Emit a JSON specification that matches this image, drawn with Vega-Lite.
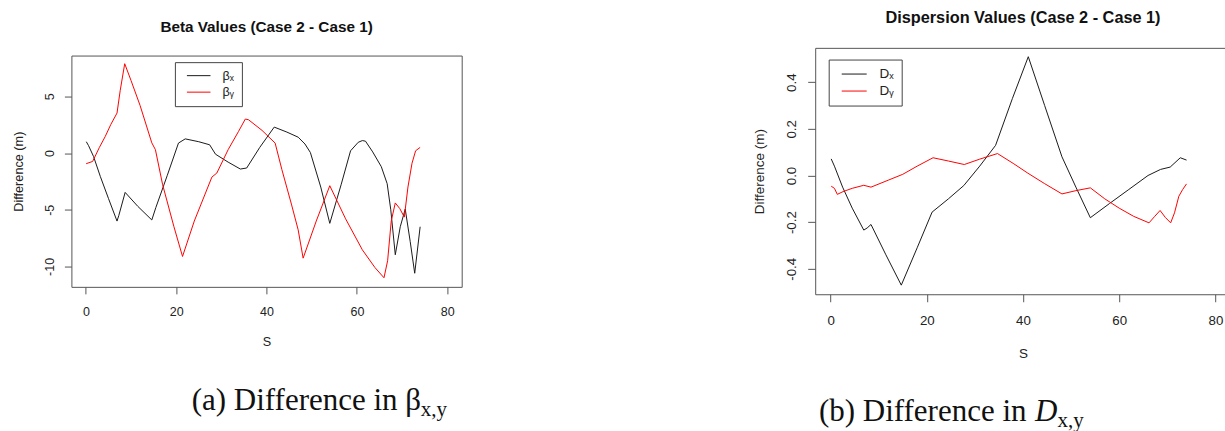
{
  "$schema": "https://vega.github.io/schema/vega-lite/v6.json",
  "background": "white",
  "padding": {"left": 11.4, "top": 9.5, "right": 0, "bottom": 0},
  "config": {
    "font": "Liberation Sans",
    "view": {"stroke": "#555", "strokeWidth": 1},
    "axis": {
      "grid": false, "domain": false, "tickColor": "#555", "tickWidth": 1,
      "labelColor": "#222", "titleColor": "#222", "titleFontWeight": "normal",
      "labelFont": "Liberation Sans", "titleFont": "Liberation Sans",
      "labelFlush": false, "labelOverlap": false
    }
  },
  "datasets": {
    "beta": [
      {"s": 0.1, "diff": 1.0, "series": "βₓ"}, {"s": 0.6, "diff": 0.65, "series": "βₓ"}, {"s": 1.7, "diff": -0.3, "series": "βₓ"},
      {"s": 3.2, "diff": -2.06, "series": "βₓ"}, {"s": 5.0, "diff": -4.0, "series": "βₓ"}, {"s": 6.9, "diff": -6.0, "series": "βₓ"},
      {"s": 7.3, "diff": -5.5, "series": "βₓ"}, {"s": 8.7, "diff": -3.47, "series": "βₓ"}, {"s": 11.5, "diff": -4.7, "series": "βₓ"},
      {"s": 14.6, "diff": -5.9, "series": "βₓ"}, {"s": 15.5, "diff": -4.8, "series": "βₓ"}, {"s": 18.0, "diff": -2.0, "series": "βₓ"},
      {"s": 20.5, "diff": 0.88, "series": "βₓ"}, {"s": 22.0, "diff": 1.25, "series": "βₓ"}, {"s": 25.0, "diff": 1.0, "series": "βₓ"},
      {"s": 27.4, "diff": 0.73, "series": "βₓ"}, {"s": 28.7, "diff": -0.1, "series": "βₓ"}, {"s": 31.5, "diff": -0.8, "series": "βₓ"},
      {"s": 34.2, "diff": -1.41, "series": "βₓ"}, {"s": 35.6, "diff": -1.32, "series": "βₓ"}, {"s": 38.5, "diff": 0.5, "series": "βₓ"},
      {"s": 41.7, "diff": 2.29, "series": "βₓ"}, {"s": 44.5, "diff": 1.85, "series": "βₓ"}, {"s": 47.0, "diff": 1.4, "series": "βₓ"},
      {"s": 48.5, "diff": 0.8, "series": "βₓ"}, {"s": 49.7, "diff": 0.05, "series": "βₓ"}, {"s": 52.0, "diff": -3.0, "series": "βₓ"},
      {"s": 54.0, "diff": -6.2, "series": "βₓ"}, {"s": 56.5, "diff": -2.8, "series": "βₓ"}, {"s": 58.6, "diff": 0.2, "series": "βₓ"},
      {"s": 60.3, "diff": 0.95, "series": "βₓ"}, {"s": 61.2, "diff": 1.1, "series": "βₓ"}, {"s": 61.9, "diff": 1.05, "series": "βₓ"},
      {"s": 63.5, "diff": 0.1, "series": "βₓ"}, {"s": 65.4, "diff": -1.2, "series": "βₓ"}, {"s": 66.7, "diff": -2.7, "series": "βₓ"},
      {"s": 67.5, "diff": -5.0, "series": "βₓ"}, {"s": 68.5, "diff": -8.97, "series": "βₓ"}, {"s": 69.6, "diff": -6.5, "series": "βₓ"},
      {"s": 70.7, "diff": -4.94, "series": "βₓ"}, {"s": 71.8, "diff": -7.8, "series": "βₓ"}, {"s": 72.8, "diff": -10.6, "series": "βₓ"},
      {"s": 74.0, "diff": -6.5, "series": "βₓ"},
      {"s": 0.07, "diff": -0.94, "series": "βᵧ"}, {"s": 1.5, "diff": -0.74, "series": "βᵧ"}, {"s": 3.0, "diff": 0.5, "series": "βᵧ"},
      {"s": 4.3, "diff": 1.47, "series": "βᵧ"}, {"s": 5.5, "diff": 2.5, "series": "βᵧ"}, {"s": 6.9, "diff": 3.53, "series": "βᵧ"},
      {"s": 7.6, "diff": 5.5, "series": "βᵧ"}, {"s": 8.6, "diff": 7.88, "series": "βᵧ"}, {"s": 10.0, "diff": 6.4, "series": "βᵧ"},
      {"s": 12.0, "diff": 4.2, "series": "βᵧ"}, {"s": 14.6, "diff": 0.9, "series": "βᵧ"}, {"s": 15.4, "diff": 0.3, "series": "βᵧ"},
      {"s": 17.0, "diff": -2.8, "series": "βᵧ"}, {"s": 19.5, "diff": -6.5, "series": "βᵧ"}, {"s": 21.4, "diff": -9.12, "series": "βᵧ"},
      {"s": 24.0, "diff": -6.0, "series": "βᵧ"}, {"s": 27.9, "diff": -2.12, "series": "βᵧ"}, {"s": 29.0, "diff": -1.76, "series": "βᵧ"},
      {"s": 31.5, "diff": 0.3, "series": "βᵧ"}, {"s": 33.8, "diff": 1.91, "series": "βᵧ"}, {"s": 35.3, "diff": 3.0, "series": "βᵧ"},
      {"s": 36.0, "diff": 2.94, "series": "βᵧ"}, {"s": 39.0, "diff": 2.0, "series": "βᵧ"}, {"s": 41.9, "diff": 0.88, "series": "βᵧ"},
      {"s": 43.4, "diff": -1.47, "series": "βᵧ"}, {"s": 45.5, "diff": -4.5, "series": "βᵧ"}, {"s": 47.0, "diff": -6.77, "series": "βᵧ"},
      {"s": 48.1, "diff": -9.27, "series": "βᵧ"}, {"s": 51.0, "diff": -6.0, "series": "βᵧ"}, {"s": 54.0, "diff": -2.88, "series": "βᵧ"},
      {"s": 57.5, "diff": -5.8, "series": "βᵧ"}, {"s": 61.2, "diff": -8.53, "series": "βᵧ"}, {"s": 64.0, "diff": -10.1, "series": "βᵧ"},
      {"s": 66.0, "diff": -11.0, "series": "βᵧ"}, {"s": 66.8, "diff": -9.5, "series": "βᵧ"}, {"s": 67.6, "diff": -6.0, "series": "βᵧ"},
      {"s": 68.5, "diff": -4.4, "series": "βᵧ"}, {"s": 69.5, "diff": -4.9, "series": "βᵧ"}, {"s": 70.5, "diff": -5.65, "series": "βᵧ"},
      {"s": 71.3, "diff": -3.0, "series": "βᵧ"}, {"s": 72.2, "diff": -0.9, "series": "βᵧ"}, {"s": 73.0, "diff": 0.2, "series": "βᵧ"},
      {"s": 74.0, "diff": 0.5, "series": "βᵧ"}
    ],
    "dispersion": [
      {"s": 0.13, "diff": 0.071, "series": "Dₓ"}, {"s": 0.8, "diff": 0.04, "series": "Dₓ"}, {"s": 2.5, "diff": -0.05, "series": "Dₓ"},
      {"s": 4.5, "diff": -0.14, "series": "Dₓ"}, {"s": 6.9, "diff": -0.234, "series": "Dₓ"}, {"s": 7.6, "diff": -0.225, "series": "Dₓ"},
      {"s": 8.4, "diff": -0.21, "series": "Dₓ"}, {"s": 11.5, "diff": -0.34, "series": "Dₓ"}, {"s": 14.7, "diff": -0.47, "series": "Dₓ"},
      {"s": 18.0, "diff": -0.31, "series": "Dₓ"}, {"s": 21.1, "diff": -0.157, "series": "Dₓ"}, {"s": 24.5, "diff": -0.1, "series": "Dₓ"},
      {"s": 27.7, "diff": -0.043, "series": "Dₓ"}, {"s": 31.0, "diff": 0.04, "series": "Dₓ"}, {"s": 34.3, "diff": 0.129, "series": "Dₓ"},
      {"s": 37.8, "diff": 0.33, "series": "Dₓ"}, {"s": 41.1, "diff": 0.509, "series": "Dₓ"}, {"s": 44.5, "diff": 0.3, "series": "Dₓ"},
      {"s": 48.1, "diff": 0.08, "series": "Dₓ"}, {"s": 51.0, "diff": -0.05, "series": "Dₓ"}, {"s": 54.0, "diff": -0.181, "series": "Dₓ"},
      {"s": 58.0, "diff": -0.12, "series": "Dₓ"}, {"s": 62.0, "diff": -0.06, "series": "Dₓ"}, {"s": 66.0, "diff": 0.0, "series": "Dₓ"},
      {"s": 68.6, "diff": 0.026, "series": "Dₓ"}, {"s": 70.6, "diff": 0.036, "series": "Dₓ"}, {"s": 72.7, "diff": 0.076, "series": "Dₓ"},
      {"s": 74.0, "diff": 0.066, "series": "Dₓ"},
      {"s": 0.13, "diff": -0.046, "series": "Dᵧ"}, {"s": 0.8, "diff": -0.055, "series": "Dᵧ"}, {"s": 1.4, "diff": -0.081, "series": "Dᵧ"},
      {"s": 2.6, "diff": -0.069, "series": "Dᵧ"}, {"s": 4.5, "diff": -0.055, "series": "Dᵧ"}, {"s": 6.9, "diff": -0.042, "series": "Dᵧ"},
      {"s": 8.4, "diff": -0.05, "series": "Dᵧ"}, {"s": 12.0, "diff": -0.02, "series": "Dᵧ"}, {"s": 15.0, "diff": 0.005, "series": "Dᵧ"},
      {"s": 18.0, "diff": 0.04, "series": "Dᵧ"}, {"s": 21.3, "diff": 0.076, "series": "Dᵧ"}, {"s": 24.5, "diff": 0.062, "series": "Dᵧ"},
      {"s": 27.8, "diff": 0.047, "series": "Dᵧ"}, {"s": 31.0, "diff": 0.07, "series": "Dᵧ"}, {"s": 34.7, "diff": 0.094, "series": "Dᵧ"},
      {"s": 38.1, "diff": 0.05, "series": "Dᵧ"}, {"s": 41.0, "diff": 0.01, "series": "Dᵧ"}, {"s": 44.5, "diff": -0.035, "series": "Dᵧ"},
      {"s": 48.1, "diff": -0.079, "series": "Dᵧ"}, {"s": 51.0, "diff": -0.065, "series": "Dᵧ"}, {"s": 54.0, "diff": -0.053, "series": "Dᵧ"},
      {"s": 57.0, "diff": -0.1, "series": "Dᵧ"}, {"s": 60.0, "diff": -0.14, "series": "Dᵧ"}, {"s": 63.0, "diff": -0.175, "series": "Dᵧ"},
      {"s": 66.2, "diff": -0.203, "series": "Dᵧ"}, {"s": 67.4, "diff": -0.175, "series": "Dᵧ"}, {"s": 68.5, "diff": -0.15, "series": "Dᵧ"},
      {"s": 69.6, "diff": -0.18, "series": "Dᵧ"}, {"s": 70.7, "diff": -0.203, "series": "Dᵧ"}, {"s": 71.5, "diff": -0.16, "series": "Dᵧ"},
      {"s": 72.4, "diff": -0.089, "series": "Dᵧ"}, {"s": 73.2, "diff": -0.06, "series": "Dᵧ"}, {"s": 74.0, "diff": -0.036, "series": "Dᵧ"}
    ]
  },
  "resolve": {
    "scale": {"x": "independent", "y": "independent", "color": "independent"},
    "legend": {"color": "independent"}
  },
  "center": true,
  "spacing": 288.8,
  "hconcat": [
    {
      "spacing": 35.5,
      "vconcat": [
        {
          "width": 390.3,
          "height": 231.3,
          "title": {"text": "Beta Values (Case 2 - Case 1)", "font": "Liberation Sans", "fontSize": 15.3, "fontWeight": "bold", "color": "#111", "frame": "group", "anchor": "middle", "baseline": "alphabetic", "offset": 7.9},
          "data": {"name": "beta"},
          "mark": {"type": "line", "strokeWidth": 1, "clip": true},
          "encoding": {
            "x": {"field": "s", "type": "quantitative", "scale": {"domain": [-3.2, 83.2], "nice": false, "zero": false},
                  "axis": {"values": [0, 20, 40, 60, 80], "title": "S", "tickSize": 7, "labelFontSize": 12.5, "titleFontSize": 12.7, "labelPadding": 11.6, "titlePadding": 17.7}},
            "y": {"field": "diff", "type": "quantitative", "scale": {"domain": [-11.8, 8.6], "nice": false, "zero": false},
                  "axis": {"values": [-10, -5, 0, 5], "title": "Difference (m)", "tickSize": 7, "labelFontSize": 12.5, "titleFontSize": 12.7,
                           "labelAngle": -90, "labelAlign": "center", "labelBaseline": "bottom", "labelPadding": 8, "titlePadding": 18,
                           "labelExpr": "replace(datum.label, '\u2212', '-')"}},
            "color": {"field": "series", "type": "nominal",
                      "scale": {"domain": ["βₓ", "βᵧ"], "range": ["#1a1a1a", "#ff0000"]},
                      "legend": {"orient": "none", "legendX": 103.5, "legendY": 6.6, "title": null,
                                 "strokeColor": "#444", "fillColor": "white", "padding": 7,
                                 "symbolType": "M-2,0H2", "symbolSize": 139, "symbolStrokeWidth": 1, "symbolOffset": 10.3,
                                 "labelOffset": 17.3, "labelFont": "Liberation Sans", "labelFontSize": 12.7, "labelColor": "#222", "rowPadding": 2.5}}
          }
        },
        {
          "width": 240.6,
          "height": 35.4,
          "view": {"stroke": null},
          "data": {"values": [{"main": "(a) Difference in β", "sub": "x,y"}]},
          "layer": [
            {"mark": {"type": "text", "align": "left", "baseline": "alphabetic", "font": "Liberation Serif", "fontSize": 31, "dy": 4.3, "color": "#111"},
             "encoding": {"text": {"field": "main"}}},
            {"mark": {"type": "text", "align": "left", "baseline": "alphabetic", "font": "Liberation Serif", "fontSize": 21, "dx": 229, "dy": 10.5, "color": "#111"},
             "encoding": {"text": {"field": "sub"}}}
          ]
        }
      ]
    },
    {
      "spacing": 34.8,
      "vconcat": [
        {
          "width": 415.6,
          "height": 246.4,
          "title": {"text": "Dispersion Values (Case 2 - Case 1)", "font": "Liberation Sans", "fontSize": 16.3, "fontWeight": "bold", "color": "#111", "frame": "group", "anchor": "middle", "baseline": "alphabetic", "offset": 8.3},
          "data": {"name": "dispersion"},
          "mark": {"type": "line", "strokeWidth": 1, "clip": true},
          "encoding": {
            "x": {"field": "s", "type": "quantitative", "scale": {"domain": [-3.2, 83.2], "nice": false, "zero": false},
                  "axis": {"values": [0, 20, 40, 60, 80], "title": "S", "tickSize": 7.5, "labelFontSize": 13.3, "titleFontSize": 13.5, "labelPadding": 12.1, "titlePadding": 19.1}},
            "y": {"field": "diff", "type": "quantitative", "scale": {"domain": [-0.509, 0.547], "nice": false, "zero": false},
                  "axis": {"values": [-0.4, -0.2, 0, 0.2, 0.4], "format": ".1f", "title": "Difference (m)", "tickSize": 7.5, "labelFontSize": 13.3, "titleFontSize": 13.5,
                           "labelAngle": -90, "labelAlign": "center", "labelBaseline": "bottom", "labelPadding": 9, "titlePadding": 18,
                           "labelExpr": "replace(datum.label, '\u2212', '-')"}},
            "color": {"field": "series", "type": "nominal",
                      "scale": {"domain": ["Dₓ", "Dᵧ"], "range": ["#1a1a1a", "#ff0000"]},
                      "legend": {"orient": "none", "legendX": 13.5, "legendY": 11.7, "title": null,
                                 "strokeColor": "#444", "fillColor": "white", "padding": 7.5,
                                 "symbolType": "M-2,0H2", "symbolSize": 156, "symbolStrokeWidth": 1, "symbolOffset": 11,
                                 "labelOffset": 18.3, "labelFont": "Liberation Sans", "labelFontSize": 13.5, "labelColor": "#222", "rowPadding": 3}}
          }
        },
        {
          "width": 7.4,
          "height": 30,
          "view": {"stroke": null},
          "data": {"values": [{"main": "(b) Difference in", "letter": "D", "sub": "x,y"}]},
          "layer": [
            {"mark": {"type": "text", "align": "left", "baseline": "alphabetic", "font": "Liberation Serif", "fontSize": 31, "dy": 7, "color": "#111"},
             "encoding": {"text": {"field": "main"}}},
            {"mark": {"type": "text", "align": "left", "baseline": "alphabetic", "font": "Liberation Serif", "fontSize": 31, "fontStyle": "italic", "dx": 216, "dy": 7, "color": "#111"},
             "encoding": {"text": {"field": "letter"}}},
            {"mark": {"type": "text", "align": "left", "baseline": "alphabetic", "font": "Liberation Serif", "fontSize": 21, "dx": 238.5, "dy": 13.5, "color": "#111"},
             "encoding": {"text": {"field": "sub"}}}
          ]
        }
      ]
    }
  ]
}
